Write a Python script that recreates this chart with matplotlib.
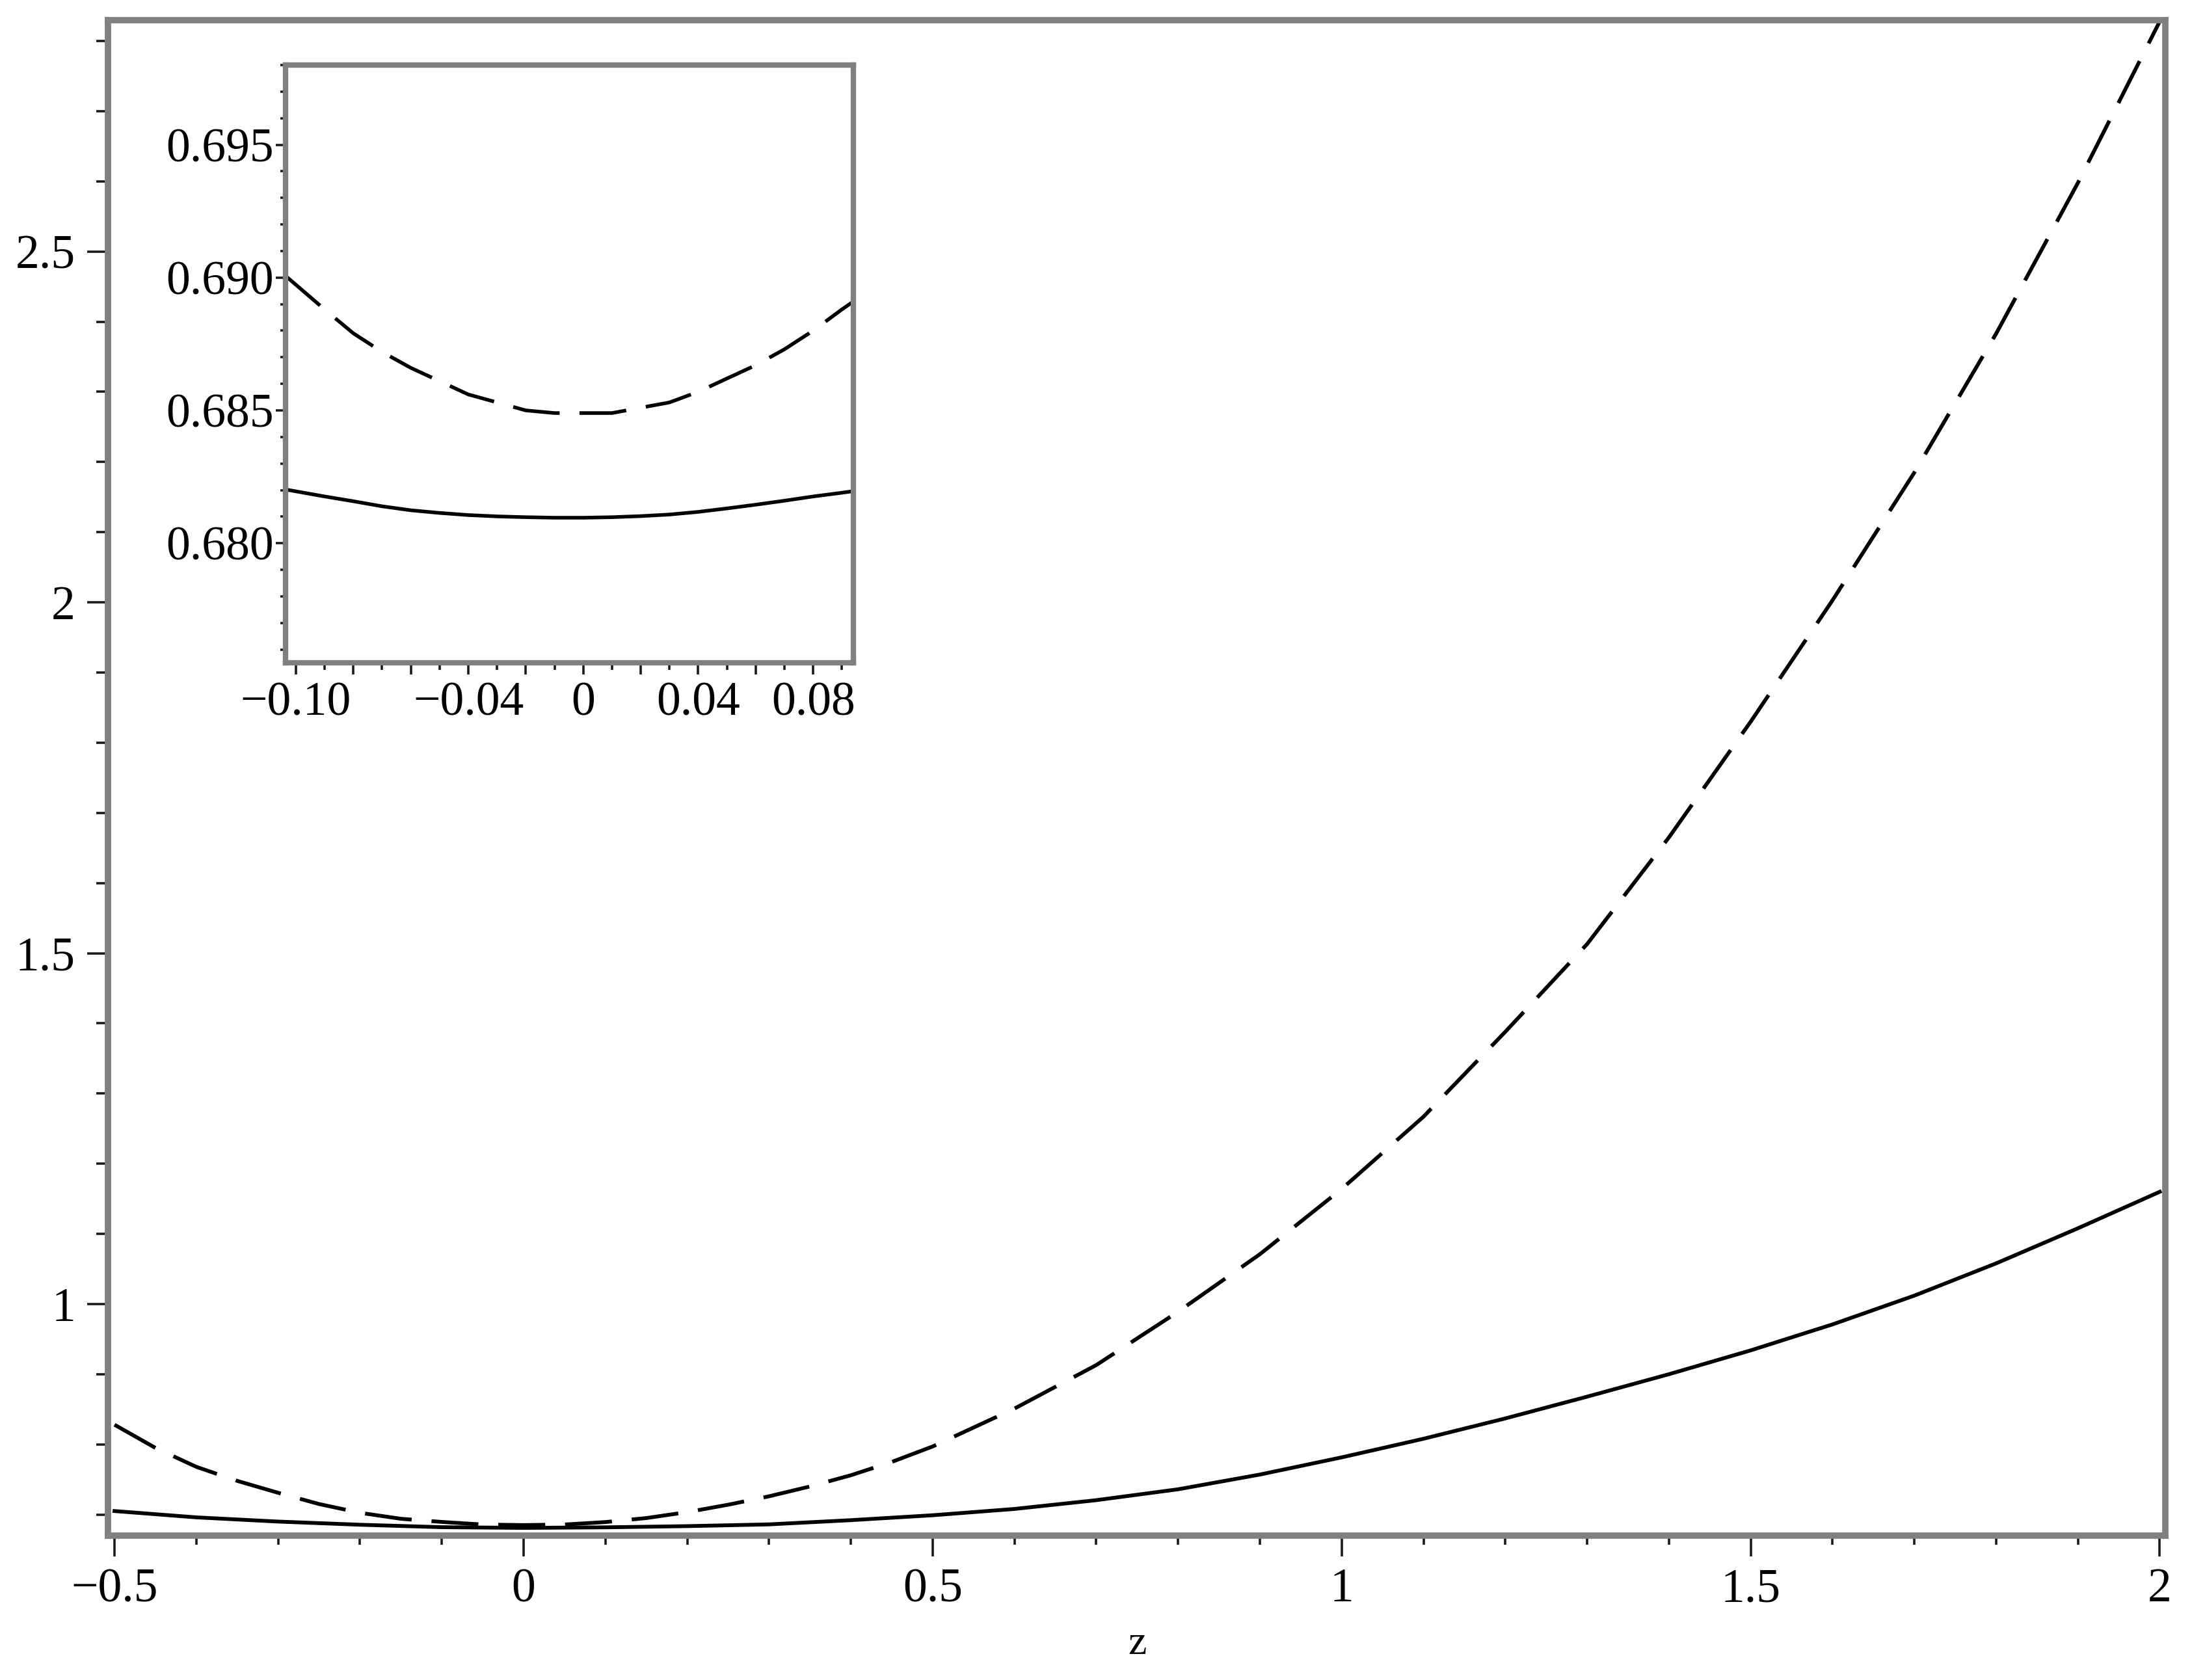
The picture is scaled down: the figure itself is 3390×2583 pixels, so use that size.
import matplotlib
matplotlib.use('Agg')
import matplotlib.pyplot as plt
from matplotlib.ticker import FixedLocator, MultipleLocator, FixedFormatter

# ---------------- data ----------------
z_main = [-0.5, -0.45, -0.4, -0.35, -0.3, -0.25, -0.2, -0.15, -0.1, -0.05,
          0.0, 0.05, 0.1, 0.15, 0.2, 0.25, 0.3, 0.35, 0.4, 0.45, 0.5,
          0.6, 0.7, 0.8, 0.9, 1.0, 1.1, 1.2, 1.3, 1.4, 1.5, 1.6, 1.7, 1.8, 1.9, 2.0]

dashed_main = [0.828, 0.795, 0.768, 0.748, 0.731, 0.715, 0.7025, 0.694, 0.6895, 0.6858,
               0.685, 0.6858, 0.6893, 0.695, 0.7035, 0.714, 0.726, 0.740, 0.756, 0.775, 0.797,
               0.851, 0.913, 0.989, 1.071, 1.164, 1.267, 1.388, 1.513, 1.665, 1.830, 2.003,
               2.185, 2.383, 2.598, 2.828]

z_solid = [-0.5, -0.4, -0.3, -0.2, -0.1, 0.0, 0.1, 0.2, 0.3, 0.4, 0.5, 0.6, 0.7,
           0.8, 0.9, 1.0, 1.1, 1.2, 1.3, 1.4, 1.5, 1.6, 1.7, 1.8, 1.9, 2.0]
solid_main = [0.705, 0.696, 0.690, 0.6855, 0.682, 0.681, 0.6818, 0.6835, 0.686, 0.692,
              0.699, 0.708, 0.7205, 0.736, 0.757, 0.7815, 0.808, 0.837, 0.868, 0.900,
              0.934, 0.971, 1.012, 1.058, 1.108, 1.160]

z_inset = [-0.104, -0.09, -0.08, -0.07, -0.06, -0.05, -0.04, -0.03, -0.02, -0.01, 0.0,
           0.01, 0.02, 0.03, 0.04, 0.05, 0.06, 0.07, 0.08, 0.09, 0.094]
dashed_inset = [0.6901, 0.6888, 0.6879, 0.6872, 0.6866, 0.6861, 0.6856, 0.6853, 0.6850,
                0.6849, 0.6849, 0.6849, 0.6851, 0.6853, 0.6857, 0.6862, 0.6867, 0.6873,
                0.6880, 0.6888, 0.6891]
solid_inset = [0.68203, 0.68176, 0.68158, 0.68139, 0.68124, 0.68114, 0.68106, 0.68101,
               0.68098, 0.68096, 0.68096, 0.68098, 0.68102, 0.68108, 0.68118, 0.68131,
               0.68145, 0.68160, 0.68176, 0.68190, 0.68196]

main_xticks = [-0.5, 0.0, 0.5, 1.0, 1.5, 2.0]
main_xlabels = ['\u22120.5', '0', '0.5', '1', '1.5', '2']
main_yticks = [1.0, 1.5, 2.0, 2.5]
main_ylabels = ['1', '1.5', '2', '2.5']

inset_xticks = [-0.10, -0.08, -0.06, -0.04, -0.02, 0.0, 0.02, 0.04, 0.06, 0.08]
inset_xlabels = ['\u22120.10', '', '', '\u22120.04', '', '0', '', '0.04', '', '0.08']
inset_yticks = [0.680, 0.685, 0.690, 0.695]
inset_ylabels = ['0.680', '0.685', '0.690', '0.695']

x_label = 'z'

# ---------------- style ----------------
plt.rcParams['font.family'] = ['Liberation Serif', 'DejaVu Serif']
plt.rcParams['lines.scale_dashes'] = False

W, H = 3390, 2583
fig = plt.figure(figsize=(W / 100, H / 100), dpi=100)
fig.patch.set_facecolor('white')

AX_GRAY = '#808080'
TICK_C = '#1a1a1a'
FS = 53
DASH = (0, (52, 22))

# main axes
L, R, T, B = 166, 3328.8, 30.6, 2361
ax = fig.add_axes([L / W, 1 - B / H, (R - L) / W, (B - T) / H])
ax.plot(z_main, dashed_main, color='black', lw=4.2, linestyle=DASH, solid_capstyle='butt')
ax.plot(z_solid, solid_main, color='black', lw=4.2)
ax.set_xlim(-0.508, 2.0066)
ax.set_ylim(0.670, 2.830)
for s in ax.spines.values():
    s.set_color(AX_GRAY)
    s.set_linewidth(7)
ax.xaxis.set_major_locator(FixedLocator(main_xticks))
ax.xaxis.set_major_formatter(FixedFormatter(main_xlabels))
ax.xaxis.set_minor_locator(MultipleLocator(0.1))
ax.yaxis.set_major_locator(FixedLocator(main_yticks))
ax.yaxis.set_major_formatter(FixedFormatter(main_ylabels))
ax.yaxis.set_minor_locator(MultipleLocator(0.1))
ax.tick_params(which='major', direction='out', length=23, width=2.6, color=TICK_C,
               labelsize=FS, pad=13, top=False, right=False)
ax.tick_params(which='minor', direction='out', length=10, width=2.6, color=TICK_C,
               top=False, right=False)
ax.tick_params(axis='y', which='minor', length=13)
fig.text(1748 / W, 1 - 2543 / H, x_label, ha='center', va='baseline', fontsize=46)

# inset axes
iL, iR, iT, iB = 438.6, 1312, 100, 1019
axin = fig.add_axes([iL / W, 1 - iB / H, (iR - iL) / W, (iB - iT) / H])
axin.set_facecolor('white')
axin.plot(z_inset, dashed_inset, color='black', lw=4.0, linestyle=DASH)
axin.plot(z_inset, solid_inset, color='black', lw=4.0)
axin.set_xlim(-0.1037, 0.094)
axin.set_ylim(0.6755, 0.698)
for s in axin.spines.values():
    s.set_color(AX_GRAY)
    s.set_linewidth(6)
axin.xaxis.set_major_locator(FixedLocator(inset_xticks))
axin.xaxis.set_major_formatter(FixedFormatter(inset_xlabels))
axin.xaxis.set_minor_locator(MultipleLocator(0.01))
axin.yaxis.set_major_locator(FixedLocator(inset_yticks))
axin.yaxis.set_major_formatter(FixedFormatter(inset_ylabels))
axin.yaxis.set_minor_locator(MultipleLocator(0.001))
axin.tick_params(which='both', direction='out', width=2.6, color=TICK_C,
                 labelsize=FS, top=False, right=False)
axin.tick_params(axis='x', which='major', length=13, pad=8)
axin.tick_params(axis='x', which='minor', length=8)
axin.tick_params(axis='y', which='major', length=11, pad=2)
axin.tick_params(axis='y', which='minor', length=6)

fig.savefig('out.png', dpi=100, facecolor='white')
